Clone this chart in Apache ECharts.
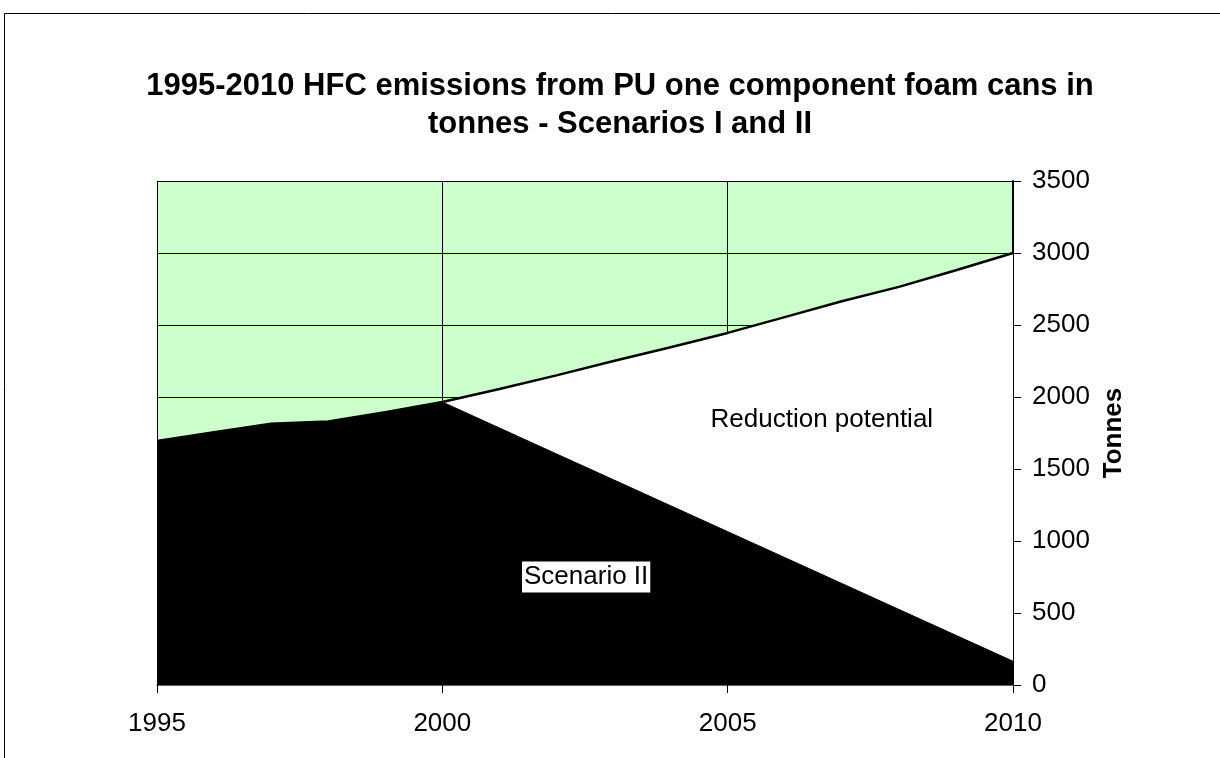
<!DOCTYPE html>
<html>
<head>
<meta charset="utf-8">
<title>HFC emissions from PU one component foam cans</title>
<script src="https://cdn.jsdelivr.net/npm/echarts@6/dist/echarts.min.js"></script>
<style>
  html, body { margin: 0; padding: 0; background: #fff; }
  #chart { width: 1220px; height: 758px; }
</style>
</head>
<body>
<div id="chart"></div>
<script>
// Years on the x axis
const years = [1995, 1996, 1997, 1998, 1999, 2000, 2001, 2002, 2003, 2004, 2005, 2006, 2007, 2008, 2009, 2010];
// Scenario I emissions (tonnes) - upper line
const scenarioI = [1695, 1755, 1815, 1830, 1895, 1965, 2055, 2150, 2250, 2345, 2445, 2555, 2665, 2765, 2880, 3000];
// Scenario II emissions (tonnes) - black area
const scenarioII = [1695, 1755, 1815, 1830, 1895, 1965, 1785, 1605, 1425, 1245, 1065, 885, 705, 525, 345, 165];
// Axis ticks
const xTicks = [1995, 2000, 2005, 2010];
const yTicks = [0, 500, 1000, 1500, 2000, 2500, 3000, 3500];

const FONT = 'Arial, "Liberation Sans", sans-serif';

const chart = echarts.init(document.getElementById('chart'), null, { renderer: 'canvas' });

const pairs = (vals) => years.map((y, i) => [y, vals[i]]);

const option = {
  animation: false,
  backgroundColor: '#ffffff',
  title: {
    text: '1995-2010 HFC emissions from PU one component foam cans in\ntonnes - Scenarios I and II',
    left: 620,
    textAlign: 'center',
    top: 67,
    padding: 0,
    textStyle: {
      fontFamily: FONT,
      fontSize: 31,
      fontWeight: 'bold',
      color: '#000',
      lineHeight: 38
    }
  },
  graphic: [{
    type: 'rect',
    silent: true,
    shape: { x: 4.5, y: 13.5, width: 1400, height: 900 },
    style: { fill: 'none', stroke: '#000', lineWidth: 1 }
  }],
  grid: {
    left: 157,
    right: 207,
    top: 181,
    bottom: 73,
    show: true,
    backgroundColor: '#CCFFCC',
    borderWidth: 0
  },
  xAxis: {
    type: 'value',
    min: xTicks[0],
    max: xTicks[xTicks.length - 1],
    interval: 5,
    axisLine: { show: true, onZero: false, lineStyle: { color: '#808080', width: 1.5 } },
    axisTick: { show: true, length: 8, lineStyle: { color: '#000' } },
    axisLabel: {
      fontFamily: FONT, fontSize: 26, color: '#000', margin: 26,
      formatter: (v) => xTicks.includes(v) ? String(v) : ''
    },
    splitLine: { show: true, lineStyle: { color: '#000', width: 1 } }
  },
  yAxis: {
    type: 'value',
    position: 'right',
    min: yTicks[0],
    max: yTicks[yTicks.length - 1],
    interval: 500,
    name: 'Tonnes',
    nameLocation: 'middle',
    nameRotate: 90,
    nameGap: 82,
    nameTextStyle: { fontFamily: FONT, fontSize: 26, fontWeight: 'bold', color: '#000' },
    axisLine: { show: true, lineStyle: { color: '#000', width: 2 } },
    axisTick: { show: true, inside: false, length: 8, lineStyle: { color: '#000' } },
    axisLabel: {
      fontFamily: FONT, fontSize: 26, color: '#000', margin: 19,
      formatter: (v) => String(v)
    },
    splitLine: { show: true, lineStyle: { color: '#000', width: 1 } }
  },
  series: [
    {
      name: 'Scenario I',
      type: 'line',
      data: pairs(scenarioI),
      symbol: 'none',
      z: 2,
      lineStyle: { color: '#000', width: 2.5 },
      areaStyle: { color: '#ffffff', opacity: 1 }
    },
    {
      name: 'Scenario II',
      type: 'line',
      data: pairs(scenarioII),
      symbol: 'none',
      z: 3,
      lineStyle: { color: '#000', width: 1 },
      areaStyle: { color: '#000000', opacity: 1 },
      markPoint: {
        symbol: 'rect',
        symbolSize: 0,
        silent: true,
        data: [
          {
            name: 'Reduction potential',
            coord: [2006.65, 1840],
            label: {
              show: true, position: 'inside', formatter: 'Reduction potential',
              fontFamily: FONT, fontSize: 26, color: '#000'
            }
          },
          {
            name: 'Scenario II',
            coord: [2002.52, 750],
            label: {
              show: true, position: 'inside', formatter: 'Scenario II',
              fontFamily: FONT, fontSize: 26, color: '#000',
              backgroundColor: '#fff', padding: [3, 2, 2, 2]
            }
          }
        ]
      }
    }
  ]
};

chart.setOption(option);
</script>
</body>
</html>
